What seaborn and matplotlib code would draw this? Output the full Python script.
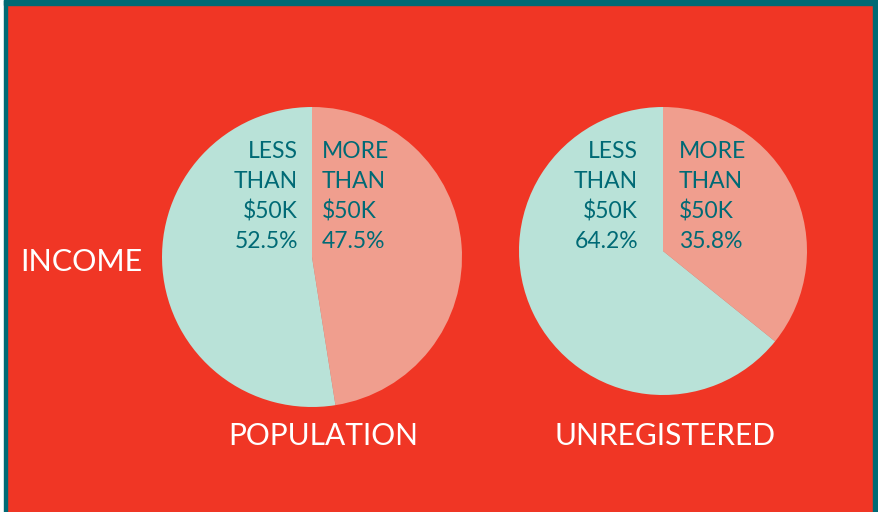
import matplotlib
matplotlib.use("Agg")
import matplotlib.pyplot as plt
import matplotlib.patches as mpatches
import seaborn as sns

# data
groups = ["POPULATION", "UNREGISTERED"]
more_pct = [47.5, 35.8]
less_pct = [52.5, 64.2]
slice_names = ["MORE\nTHAN\n$50K", "LESS\nTHAN\n$50K"]
row_title = "INCOME"

# colours
red = "#F03625"
teal = "#006A75"
mint = "#B9E2D8"
salmon = "#F09E8E"

sns.set_style("white")
plt.rcParams["font.family"] = ["Lato", "DejaVu Sans"]

W, H = 879, 512
fig = plt.figure(figsize=(W / 100, H / 100), dpi=100, facecolor=red,
                 edgecolor=red, linewidth=0)

# frame: teal band on top, left and right, red panel inside (figure fraction)
fig.patches.append(mpatches.Rectangle((0, 0), 4.5 / W, 1, color="white",
                                      transform=fig.transFigure, zorder=0))
fig.patches.append(mpatches.Rectangle((4.5 / W, 0), 3 / W, 1, color=teal,
                                      transform=fig.transFigure, zorder=0))
fig.patches.append(mpatches.Rectangle((873 / W, 0), 6 / W, 1, color=teal,
                                      transform=fig.transFigure, zorder=0))
fig.patches.append(mpatches.Rectangle((4.5 / W, 1 - 5 / H), 1, 5 / H,
                                      color=teal, transform=fig.transFigure,
                                      zorder=0))

ax = fig.add_axes([0, 0, 1, 1])
ax.patch.set_alpha(0)

# pie geometry (pixels, y measured from top)
centers = [(312, 257), (663, 251)]
radii = [150, 144]
label_x = [(322, 298), (679, 638)]
title_x = [323, 665]
palette = sns.color_palette([salmon, mint])

for i, g in enumerate(groups):
    cx, cy = centers[i]
    ax.pie([more_pct[i], less_pct[i]], colors=palette, startangle=90,
           counterclock=False, center=(cx, H - cy), radius=radii[i],
           wedgeprops=dict(linewidth=0))
    # labels inside the slices
    ax.text(label_x[i][0], H - 141, f"{slice_names[0]}\n{more_pct[i]}%",
            ha="left", va="top", color=teal, fontsize=16.5,
            linespacing=1.5, zorder=5)
    ax.text(label_x[i][1], H - 141, f"{slice_names[1]}\n{less_pct[i]}%",
            ha="right", va="top", color=teal, fontsize=16.5,
            linespacing=1.5, zorder=5)
    # group title under the pie
    ax.text(title_x[i], H - 436, g, ha="center", va="center", color="white",
            fontsize=21.5, zorder=5)

ax.text(20, H - 262, row_title, ha="left", va="center", color="white",
        fontsize=22, zorder=5)

ax.set_xlim(0, W)
ax.set_ylim(0, H)
ax.set_aspect("equal")
ax.axis("off")
fig.savefig("out.png", dpi=100, facecolor=red)
